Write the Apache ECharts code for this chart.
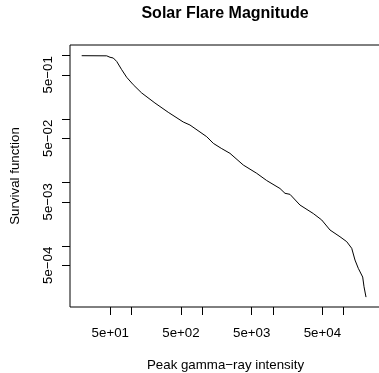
<!DOCTYPE html>
<html>
<head>
<meta charset="utf-8">
<script src="https://cdn.jsdelivr.net/npm/echarts@6/dist/echarts.min.js"></script>
<style>
html,body{margin:0;padding:0;background:#fff;}
#chart{width:379px;height:373px;}
</style>
</head>
<body>
<div id="chart"></div>
<script>
// Peak gamma-ray intensity (x) and survival function (y)
const intensity = [19.7, 44.5, 49.6, 55.1, 61.7, 72.5, 85.3, 105.7, 139, 214, 330, 538, 670, 1156, 1432, 1854, 2466, 3802, 5890, 8147, 12560, 14790, 17400, 24100, 37200, 48900, 64100, 88700, 110400, 130000, 144600, 161000, 185800, 194000, 207000];
const survival  = [1.0, 0.995, 0.944, 0.92, 0.81, 0.602, 0.457, 0.349, 0.259, 0.180, 0.1285, 0.0904, 0.0810, 0.0530, 0.0417, 0.0348, 0.0290, 0.0190, 0.01406, 0.01083, 0.00811, 0.00681, 0.00656, 0.00445, 0.00327, 0.00259, 0.00180, 0.00141, 0.00118, 0.000927, 0.000606, 0.000449, 0.000327, 0.000230, 0.000158];

const xTicks = [50, 100, 500, 1000, 5000, 10000, 50000, 100000];
const xLabels = [50, 500, 5000, 50000];
const xLabelText = ['5e+01', '5e+02', '5e+03', '5e+04'];
const yTicks = [1, 0.5, 0.1, 0.05, 0.01, 0.005, 0.001, 0.0005];
const yLabels = [0.5, 0.05, 0.005, 0.0005];
const yLabelText = ['5e\u221201', '5e\u221202', '5e\u221203', '5e\u221204'];

const FONT = 'Liberation Sans, Arial, Helvetica, sans-serif';

function lookup(vals, texts) {
  return function (v) {
    for (let i = 0; i < vals.length; i++) {
      if (Math.abs(Math.log10(v) - Math.log10(vals[i])) < 1e-6) return texts[i];
    }
    return '';
  };
}

const chart = echarts.init(document.getElementById('chart'), null, {renderer: 'canvas'});
chart.setOption({
  animation: false,
  backgroundColor: '#ffffff',
  title: {
    text: 'Solar Flare Magnitude',
    left: 225,
    textAlign: 'center',
    top: 6,
    padding: 0,
    textStyle: {fontFamily: FONT, fontSize: 16, fontWeight: 'bold', color: '#000'}
  },
  grid: {
    left: 70, right: -2, top: 45, bottom: 66,
    outerBoundsMode: 'none',
    containLabel: false,
    show: true, borderColor: '#000', borderWidth: 1, backgroundColor: 'transparent'
  },
  xAxis: {
    type: 'log',
    logBase: 10,
    min: 13.46,
    max: 337300,
    name: 'Peak gamma\u2212ray intensity',
    nameLocation: 'middle',
    nameGap: 52,
    nameTextStyle: {fontFamily: FONT, fontSize: 13.3, color: '#000'},
    axisLine: {show: false},
    splitLine: {show: false},
    minorTick: {show: false},
    axisTick: {show: true, length: 8, lineStyle: {color: '#000', width: 1}, customValues: xTicks},
    axisLabel: {
      show: true, margin: 20, customValues: xLabels,
      fontFamily: FONT, fontSize: 13.3, color: '#000',
      formatter: lookup(xLabels, xLabelText)
    }
  },
  yAxis: {
    type: 'log',
    logBase: 10,
    min: 1.104e-4,
    max: 1.474,
    name: 'Survival function',
    nameLocation: 'middle',
    nameRotate: 90,
    nameGap: 48,
    nameTextStyle: {fontFamily: FONT, fontSize: 13.3, color: '#000'},
    axisLine: {show: false},
    splitLine: {show: false},
    minorTick: {show: false},
    axisTick: {show: true, length: 8, lineStyle: {color: '#000', width: 1}, customValues: yTicks},
    axisLabel: {
      show: true, margin: 15, rotate: 90, customValues: yLabels,
      fontFamily: FONT, fontSize: 13.3, color: '#000',
      formatter: lookup(yLabels, yLabelText)
    }
  },
  series: [{
    type: 'line',
    data: intensity.map((x, i) => [x, survival[i]]),
    showSymbol: false,
    symbol: 'none',
    smooth: false,
    lineStyle: {color: '#000', width: 1},
    clip: true
  }]
});
</script>
</body>
</html>
